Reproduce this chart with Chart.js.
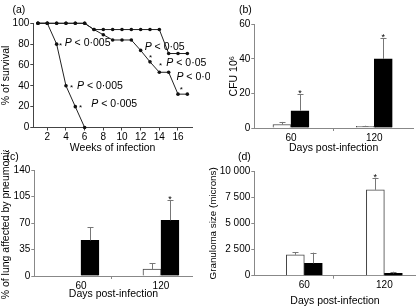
<!DOCTYPE html>
<html><head><meta charset="utf-8">
<script src="https://cdn.jsdelivr.net/npm/chart.js@4/dist/chart.umd.min.js"></script>
<style>
html,body{margin:0;padding:0;background:#fff;}
#wrap{position:relative;width:417px;height:307px;overflow:hidden;font-family:"Liberation Sans",Arial,Helvetica,sans-serif;}
canvas{position:absolute;}
.lab{position:absolute;font-size:10.5px;line-height:1;color:#000;white-space:nowrap;}
</style></head><body>
<div id="wrap">
<canvas id="ca" width="210" height="154" style="left:0;top:0"></canvas>
<canvas id="cb" width="210" height="154" style="left:207px;top:0"></canvas>
<canvas id="cc" width="210" height="157" style="left:0;top:150px"></canvas>
<canvas id="cd" width="210" height="157" style="left:207px;top:150px"></canvas>
<div class="lab" style="left:12.5px;top:3.5px">(a)</div>
<div class="lab" style="left:239px;top:3.5px">(b)</div>
<div class="lab" style="left:6.5px;top:150.5px">(c)</div>
<div class="lab" style="left:238px;top:150.5px">(d)</div>
</div>
<script>
// ---------- DATA ----------
// (a) survival
const weeks = [1,2,3,4,5,6,7,8,9,10,11,12,13,14,15,16,17];
const survivalGroup1 = [100,100,80,40,20,0];
const survivalGroup2 = [100,100,100,100,100,100,94,94,94,94,94,94,94,94,71,71,71];
const survivalGroup3 = [100,100,100,100,100,100,94,89,84,84,84,74,63,53,53,32,32];
const weekTicks = [2,4,6,8,10,12,14,16];
const survivalTicks = [0,20,40,60,80,100];
// P-value notes in (a): star position and text position (data units)
const noteText   = ['P < 0·005','P < 0·005','P < 0·005','P < 0·05','P < 0·05','P < 0·05'];
const noteTextX  = [3.86, 5.18, 6.72, 12.43, 14.75, 15.83];
const noteTextY  = [81, 40, 22.5, 77.6, 62, 48.3];
const noteStarX  = [3.43, 4.61, 5.57, 13.07, 14.14, 16.36];
const noteStarY  = [81, 40, 21, 69, 61, 38.3];

// bar panels
const days = [60, 120];
// (b) CFU 10^6
const cfuWhite = [2, 1];
const cfuWhiteSD = [1.5, 0.3];
const cfuBlack = [10, 40];
const cfuBlackSD = [9.5, 11.8];
const cfuBlackSig = [true, true];
const cfuTicks = [0, 20, 40, 60];
// (c) % lung affected by pneumonia
const lungWhite = [0, 9];
const lungWhiteSD = [0, 7.8];
const lungBlack = [47, 73.5];
const lungBlackSD = [17.5, 27];
const lungBlackSig = [false, true];
const lungTicks = [0, 35, 70, 105, 140];
// (d) granuloma size
const granWhite = [2000, 8200];
const granWhiteSD = [230, 1150];
const granWhiteSig = [false, true];
const granBlack = [1180, 220];
const granBlackSD = [1020, 160];
const granTicks = [0, 2500, 5000, 7500, 10000];
const granTickLabels = ['0', '2 500', '5 000', '7 500', '10 000'];

// ---------- SETUP ----------
const FONT = '"Liberation Sans", Arial, Helvetica, sans-serif';
Chart.defaults.font.family = FONT;
Chart.defaults.color = '#000';
Chart.defaults.animation = false;
Chart.defaults.responsive = false;
Chart.defaults.devicePixelRatio = 1;
Chart.defaults.plugins.legend.display = false;
Chart.defaults.plugins.tooltip.enabled = false;

const axisDark = '#444';
const axisGray = '#888';
const TICK = 10;

function yAxis(o) {
  return {
    min: o.min, max: o.max,
    afterBuildTicks: s => { s.ticks = o.ticks.map(v => ({value: v})); },
    afterFit: s => { s.width = o.width; },
    border: {color: o.color, width: 1},
    grid: {drawOnChartArea: false, tickLength: 3, color: o.color, lineWidth: 1},
    ticks: {font: {size: o.tickSize || TICK}, padding: 1, color: '#000', callback: o.fmt || (v => String(v))},
    title: {display: true, text: o.title, color: '#000', font: {size: o.titleSize || 10.5},
            padding: {top: o.titlePad || 0, bottom: 0}}
  };
}
function barX(o) {
  return {
    type: 'linear', min: o.min, max: o.max, offset: false,
    afterBuildTicks: s => { s.ticks = [days[0], o.mid, days[1]].map(v => ({value: v})); },
    afterFit: s => { s.height = o.height; },
    border: {color: axisGray, width: 1},
    grid: {drawOnChartArea: false, offset: false, tickLength: 3,
           color: c => (c.tick && days.includes(c.tick.value)) ? 'rgba(0,0,0,0)' : axisGray},
    ticks: {font: {size: TICK}, padding: 1, color: '#000', autoSkip: false, maxRotation: 0,
            callback: v => days.includes(v) ? String(v) : ''},
    title: {display: true, text: 'Days post-infection', color: '#000', font: {size: 10.5},
            padding: {top: 0, bottom: 0}}
  };
}

const errorBars = {
  id: 'errorBars',
  afterDatasetsDraw(chart) {
    const ctx = chart.ctx;
    const ys = chart.scales.y;
    chart.data.datasets.forEach((ds, i) => {
      const meta = chart.getDatasetMeta(i);
      meta.data.forEach((bar, j) => {
        const v = ds.data[j].y;
        const sd = ds.sd ? ds.sd[j] : 0;
        const yb = ys.getPixelForValue(v);
        const yt = ys.getPixelForValue(v + sd);
        ctx.save();
        if (sd > 0) {
          ctx.strokeStyle = '#777';
          ctx.lineWidth = 1;
          ctx.beginPath();
          const x = Math.round(bar.x) + 0.5;
          ctx.moveTo(x, yb); ctx.lineTo(x, yt);
          ctx.moveTo(x - 3, Math.round(yt) + 0.5); ctx.lineTo(x + 3, Math.round(yt) + 0.5);
          ctx.stroke();
        }
        if (ds.sig && ds.sig[j]) {
          ctx.fillStyle = '#000';
          ctx.font = '9px ' + FONT;
          ctx.textAlign = 'center';
          ctx.textBaseline = 'alphabetic';
          ctx.fillText('*', bar.x, yt + 2);
        }
        ctx.restore();
      });
    });
  }
};

const pNotes = {
  id: 'pNotes',
  afterDatasetsDraw(chart) {
    const ctx = chart.ctx, xs = chart.scales.x, ys = chart.scales.y;
    ctx.save();
    ctx.fillStyle = '#000';
    for (let i = 0; i < noteText.length; i++) {
      ctx.font = '8px ' + FONT;
      ctx.textAlign = 'center';
      ctx.textBaseline = 'alphabetic';
      ctx.fillText('*', xs.getPixelForValue(noteStarX[i]), ys.getPixelForValue(noteStarY[i]) + 4.5);
      const tx = xs.getPixelForValue(noteTextX[i]);
      const ty = ys.getPixelForValue(noteTextY[i]);
      ctx.textAlign = 'left';
      ctx.textBaseline = 'middle';
      ctx.font = 'italic 10.5px ' + FONT;
      const p = noteText[i].slice(0, 1);
      ctx.fillText(p, tx, ty);
      const w = ctx.measureText(p).width;
      ctx.font = '10.5px ' + FONT;
      ctx.fillText(noteText[i].slice(1), tx + w, ty);
    }
    ctx.restore();
  }
};

function lineDs(vals) {
  return {
    data: vals.map((v, i) => ({x: weeks[i], y: v})),
    borderColor: '#222', borderWidth: 1, pointRadius: 1.8, pointBorderWidth: 0,
    pointBackgroundColor: '#111', clip: false, tension: 0
  };
}

// ---------- (a) ----------
new Chart(document.getElementById('ca'), {
  type: 'line',
  data: {datasets: [lineDs(survivalGroup1), lineDs(survivalGroup2), lineDs(survivalGroup3)]},
  options: {
    layout: {padding: {top: 23.3, right: 18, bottom: 0, left: 0}},
    scales: {
      x: {type: 'linear', min: 0.5, max: 17.5,
          afterBuildTicks: s => { s.ticks = weekTicks.map(v => ({value: v})); },
          afterFit: s => { s.height = 26.5; },
          border: {color: axisDark, width: 1},
          grid: {drawOnChartArea: false, tickLength: 3, color: axisDark},
          ticks: {font: {size: TICK}, padding: 1, color: '#000', autoSkip: false, maxRotation: 0},
          title: {display: true, text: 'Weeks of infection', color: '#000', font: {size: 10.5}, padding: {top: 0, bottom: 0}}},
      y: yAxis({min: 0, max: 100, ticks: survivalTicks, width: 33.3, color: axisDark, title: '% of survival'})
    }
  },
  plugins: [pNotes]
});

function barDs(vals, sd, sig, fill) {
  return {
    data: vals.map((v, i) => ({x: days[i], y: v})),
    sd: sd, sig: sig,
    backgroundColor: fill, borderColor: fill === '#000' ? '#000' : '#444',
    borderWidth: 1, barThickness: 18
  };
}

// ---------- (b) ----------
new Chart(document.getElementById('cb'), {
  type: 'bar',
  data: {datasets: [barDs(cfuWhite, cfuWhiteSD, null, '#fff'), barDs(cfuBlack, cfuBlackSD, cfuBlackSig, '#000')]},
  options: {
    layout: {padding: {top: 24.3, right: 4, bottom: 0, left: 0}},
    scales: {
      x: barX({min: 33.6, max: 147.9, mid: 90.5, height: 26}),
      y: yAxis({min: 0, max: 60, ticks: cfuTicks, width: 47.3, color: axisGray, title: 'CFU 10⁶', titlePad: 20.7})
    }
  },
  plugins: [errorBars]
});

// ---------- (c) ----------
new Chart(document.getElementById('cc'), {
  type: 'bar',
  data: {datasets: [barDs(lungWhite, lungWhiteSD, null, '#fff'), barDs(lungBlack, lungBlackSD, lungBlackSig, '#000')]},
  options: {
    layout: {padding: {top: 20, right: 17.3, bottom: 7, left: 0}},
    scales: {
      x: barX({min: 25, max: 143.8, mid: 83, height: 24}),
      y: yAxis({min: 0, max: 140, ticks: lungTicks, width: 34.3, color: axisGray, title: '% of lung affected by pneumonia'})
    }
  },
  plugins: [errorBars]
});

// ---------- (d) ----------
new Chart(document.getElementById('cd'), {
  type: 'bar',
  data: {datasets: [barDs(granWhite, granWhiteSD, granWhiteSig, '#fff'), barDs(granBlack, granBlackSD, null, '#000')]},
  options: {
    layout: {padding: {top: 21, right: 1.3, bottom: 0, left: 0}},
    scales: {
      x: barX({min: 22.5, max: 143.5, mid: 81.75, height: 31.3}),
      y: yAxis({min: 0, max: 10000, ticks: granTicks, width: 47.3, color: axisGray, title: 'Granuloma size (microns)',
                titleSize: 9.8, fmt: v => granTickLabels[granTicks.indexOf(v)]})
    }
  },
  plugins: [errorBars]
});
</script>
</body></html>
